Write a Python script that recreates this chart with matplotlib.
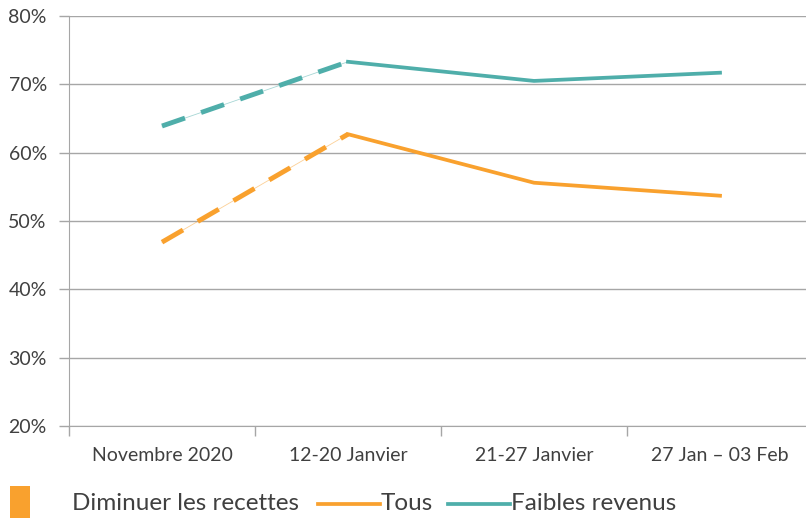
import matplotlib.pyplot as plt
from matplotlib.patches import Rectangle
from matplotlib.lines import Line2D
from matplotlib.ticker import FixedLocator

categories = ["Novembre 2020", "12-20 Janvier", "21-27 Janvier", "27 Jan \u2013 03 Feb"]
tous = [46.9, 62.7, 55.6, 53.7]
faibles = [63.9, 73.3, 70.5, 71.7]
yticks = [20, 30, 40, 50, 60, 70, 80]

orange = "#F9A12E"
teal = "#4FAEAA"
grid = "#A6A6A6"
txt = "#404040"

plt.rcParams['font.family'] = ['Lato', 'DejaVu Sans']

fig = plt.figure(figsize=(8.06, 5.18), dpi=100)
W, H = 806, 518
ax = fig.add_axes([69 / W, 1 - 426 / H, (813 - 69) / W, (426 - 16) / H])

x = list(range(len(categories)))

for vals, col in [(tous, orange), (faibles, teal)]:
    # faint thin line + thick dashes for first segment
    ax.plot(x[:2], vals[:2], color=col, lw=0.6, alpha=0.5, zorder=3)
    ax.plot(x[:2], vals[:2], color=col, lw=3.5, dashes=(5, 3.5), zorder=3)
    ax.plot(x[1:], vals[1:], color=col, lw=2.7, solid_joinstyle='round', zorder=3)

ax.set_xlim(-0.5, len(categories) - 0.5)
ax.set_ylim(20, 80)
ax.set_yticks(yticks)
ax.set_yticklabels([f"{v}%" for v in yticks])
ax.yaxis.grid(True, color=grid, lw=1)
ax.set_axisbelow(True)

ax.set_xticks(x)
ax.set_xticklabels(categories)
ax.xaxis.set_minor_locator(FixedLocator([i - 0.5 for i in range(len(categories) + 1)]))
ax.tick_params(axis='x', which='major', length=0, pad=15, labelsize=14, colors=txt)
ax.tick_params(axis='x', which='minor', length=7, color=grid, width=1)
ax.tick_params(axis='y', length=7, color=grid, width=1, labelsize=14, colors=txt, pad=9)

for s in ['top', 'right']:
    ax.spines[s].set_visible(False)
ax.spines['left'].set_color(grid)
ax.spines['bottom'].set_color(grid)

# legend drawn manually
fig.add_artist(Rectangle((10 / W, 1 - 518 / H), 20 / W, 32 / H, transform=fig.transFigure,
                         color=orange, lw=0))
ly = 1 - 504 / H
fig.text(72 / W, ly, "Diminuer les recettes", fontsize=17.5, color=txt, va='center')
fig.add_artist(Line2D([318 / W, 380 / W], [ly, ly], transform=fig.transFigure, color=orange, lw=2.7))
fig.text(381 / W, ly, "Tous", fontsize=17.5, color=txt, va='center')
fig.add_artist(Line2D([448 / W, 510 / W], [ly, ly], transform=fig.transFigure, color=teal, lw=2.7))
fig.text(511 / W, ly, "Faibles revenus", fontsize=17.5, color=txt, va='center')

fig.savefig("out.png", dpi=100)
